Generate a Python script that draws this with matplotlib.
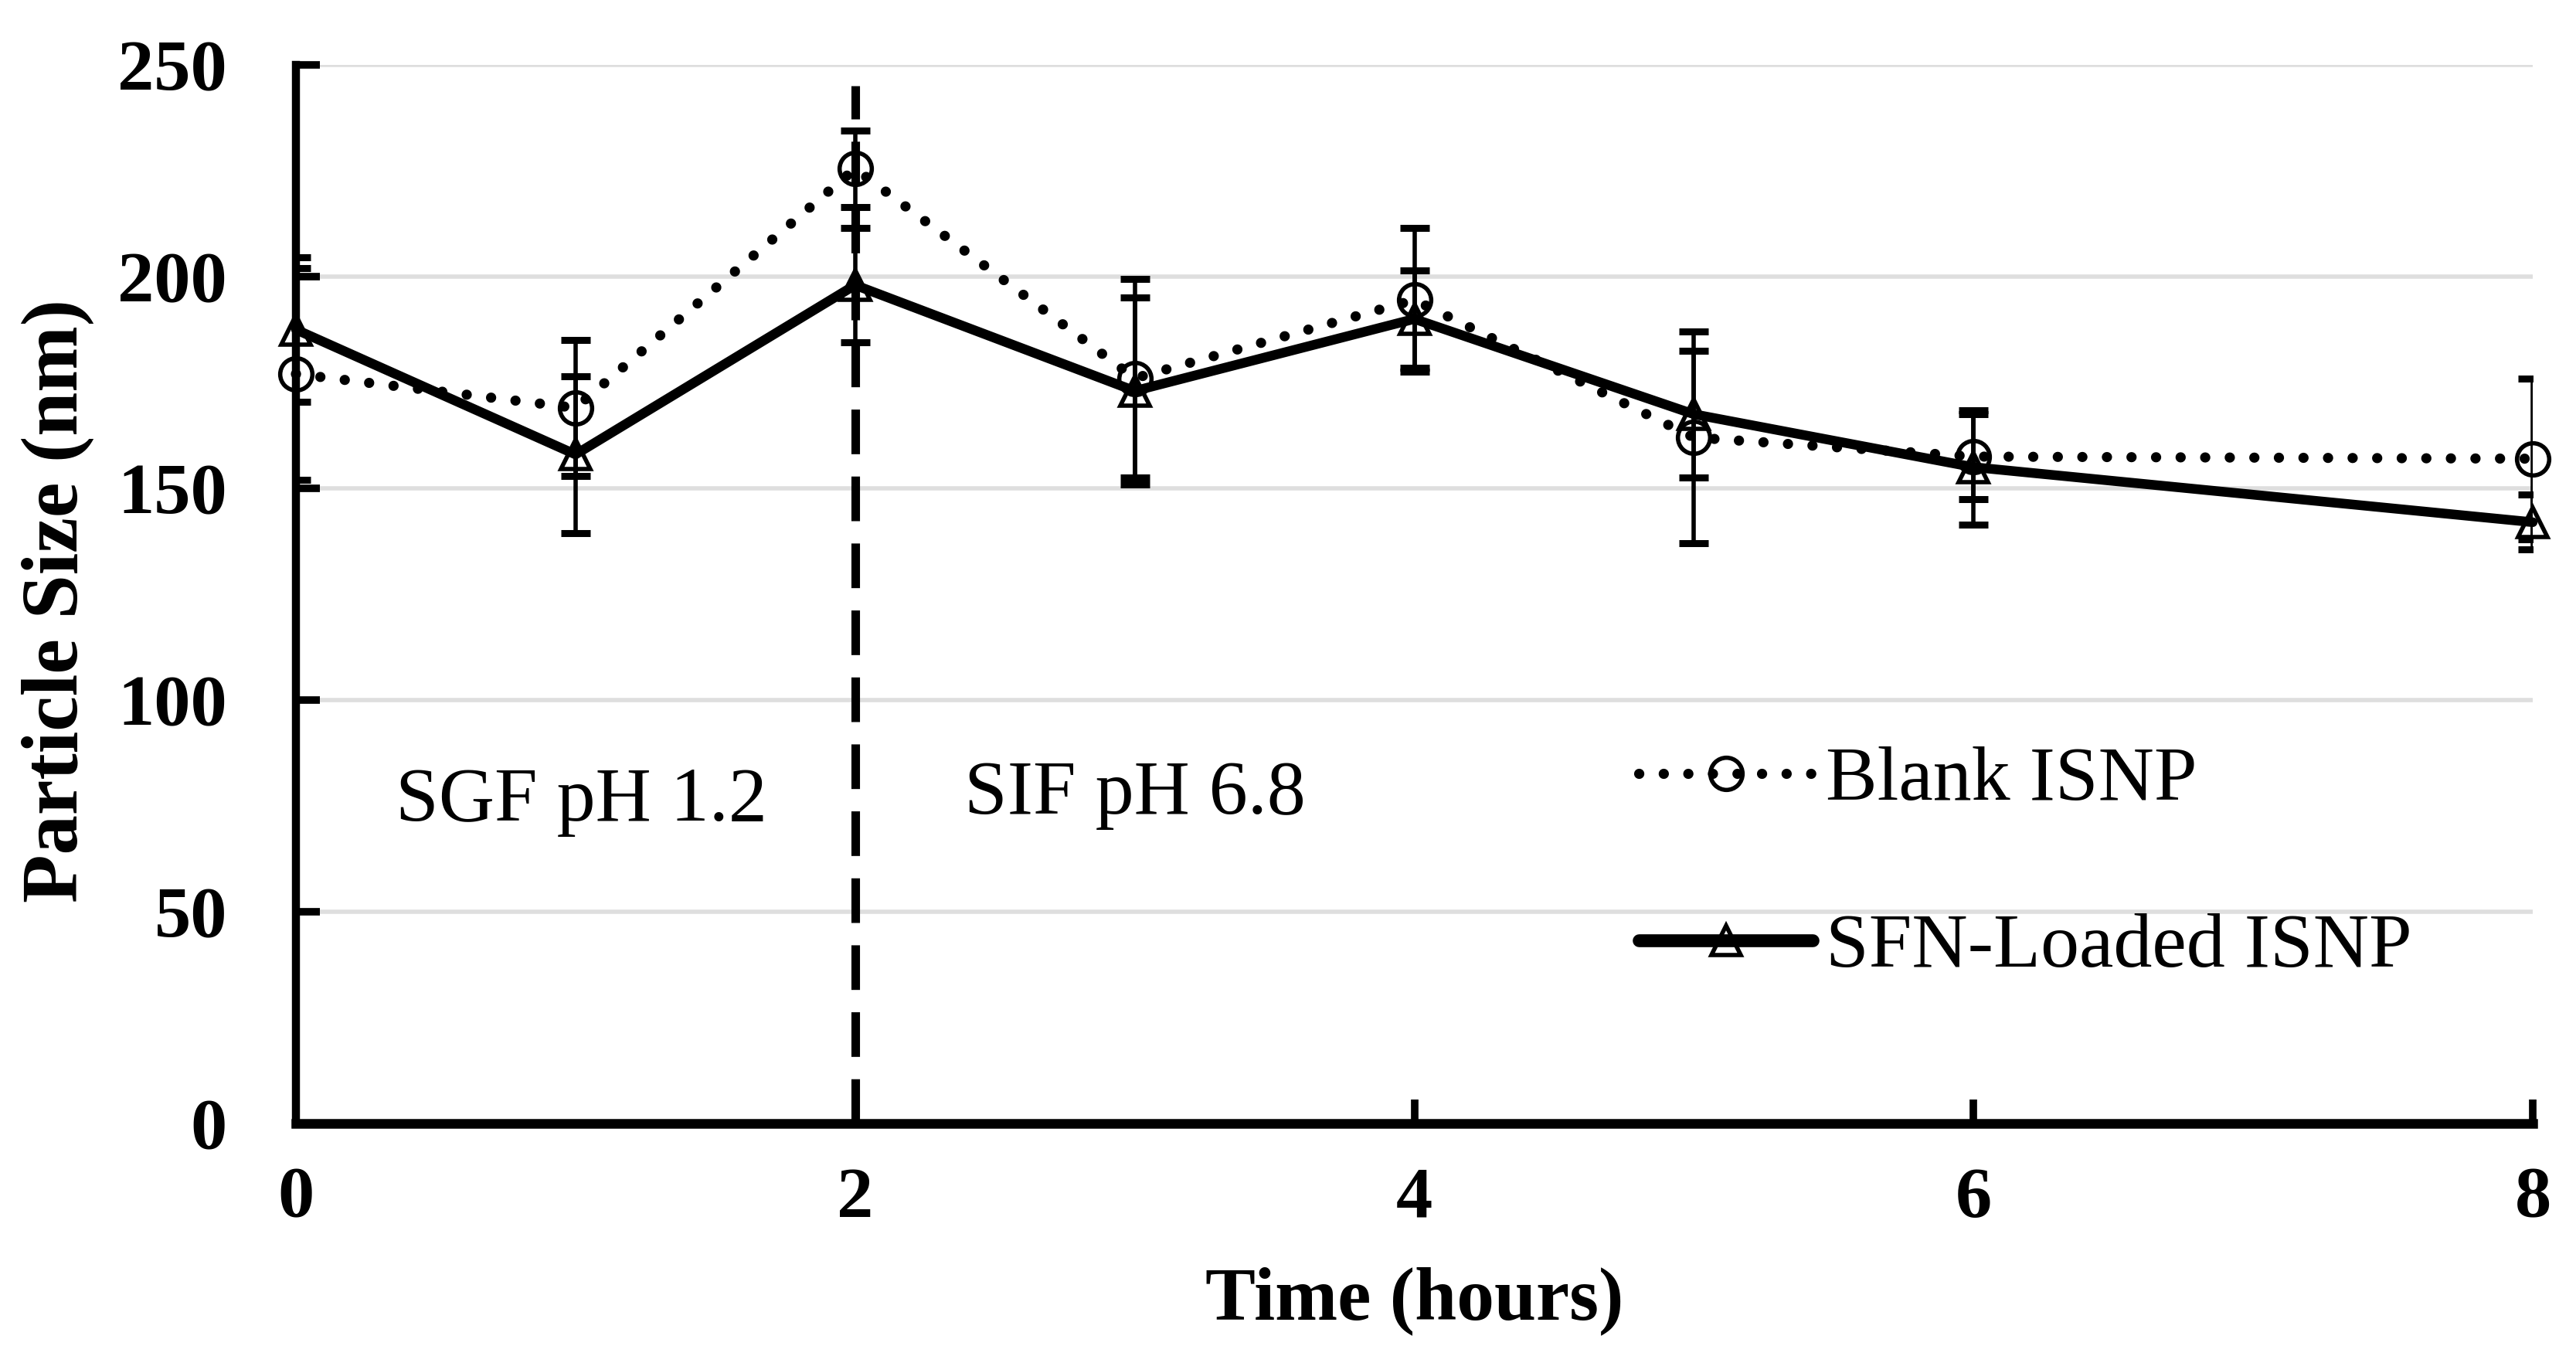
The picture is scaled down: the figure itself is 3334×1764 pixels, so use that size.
import matplotlib
matplotlib.use("Agg")
import matplotlib.pyplot as plt

# particle size vs time in simulated gastric / intestinal fluid
time_h = [0, 1, 2, 3, 4, 5, 6, 8]
blank_size = [177, 169, 225.5, 176, 194.5, 162, 157.5, 157]
blank_err = [25, 16, 9, 23.5, 17, 25, 10, 19]
sfn_size = [187.5, 158, 198, 173, 190, 167.5, 155, 142]
sfn_err = [17, 18.5, 13.5, 22, 11.5, 15, 13.5, 6.5]

phase_change = 2      # hours: switch from SGF to SIF
phase_line_top = 245
phase_labels = ["SGF pH 1.2", "SIF pH 6.8"]
phase_label_x = [0.357, 2.39]
phase_label_y = [71.5, 73.2]

x_ticks = [0, 2, 4, 6, 8]
y_ticks = [0, 50, 100, 150, 200, 250]

plt.rcParams['font.family'] = ['Liberation Serif', 'DejaVu Serif']

fig = plt.figure(figsize=(33.34, 17.64), dpi=100)
ax = fig.add_axes([383/3334, 310/1764, 2895/3334, 1370/1764])

ax.set_xlim(0, 8)
ax.set_ylim(0, 250)
ax.set_xticks(x_ticks)
ax.set_yticks(y_ticks)
ax.yaxis.grid(True, color='#dedede', lw=4)
ax.set_axisbelow(True)

# error bars
ax.errorbar(time_h, blank_size, yerr=blank_err, fmt='none', ecolor='k',
            elinewidth=4, capsize=14, capthick=6.5, zorder=3)
ax.errorbar(time_h, sfn_size, yerr=sfn_err, fmt='none', ecolor='k',
            elinewidth=4, capsize=14, capthick=6.5, zorder=3)

ax.plot(time_h, blank_size, color='k', lw=9.5, ls=(0, (0.01, 2.4)),
        dash_capstyle='round', marker='o', ms=30, mfc='none', mec='k',
        mew=4, clip_on=False, zorder=4, label='Blank ISNP')
ax.plot(time_h, sfn_size, color='k', lw=9, solid_capstyle='round',
        marker='^', ms=28, mfc='none', mec='k', mew=4, clip_on=False,
        zorder=5, label='SFN-Loaded ISNP')

# SGF / SIF boundary
ax.plot([phase_change, phase_change], [0, phase_line_top], color='k', lw=8,
        ls=(0, (5.2, 2.6)), zorder=2)
for lab, lx, ly in zip(phase_labels, phase_label_x, phase_label_y):
    ax.text(lx, ly, lab, fontsize=72, va='baseline', ha='left')

for s in ['top', 'right']:
    ax.spines[s].set_visible(False)
ax.spines['left'].set_linewidth(7.5)
ax.spines['bottom'].set_linewidth(9)

ax.tick_params(direction='in', length=22, width=7, labelsize=68)
ax.tick_params(axis='y', pad=64)
ax.tick_params(axis='x', pad=40)
for t in ax.get_xticklabels() + ax.get_yticklabels():
    t.set_fontweight('bold')

ax.set_xlabel('Time (hours)', fontsize=70, fontweight='bold')
ax.set_ylabel('Particle Size (nm)', fontsize=74, fontweight='bold')
ax.xaxis.set_label_coords(0.5, -0.135)
ax.yaxis.set_label_coords(-0.09, 0.494)

leg = ax.legend(loc='center left', bbox_to_anchor=(2121/3334, (1764-1119)/1764),
                bbox_transform=fig.transFigure, frameon=False, fontsize=72,
                handlelength=2.25, handletextpad=0.17, labelspacing=1.25,
                borderpad=0, borderaxespad=0)
leg.get_lines()[1].set_linewidth(12)

fig.savefig('out.png', dpi=100)
